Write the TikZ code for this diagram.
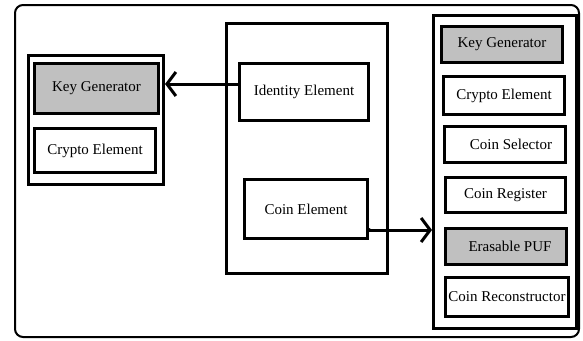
\documentclass[tikz,border=0pt]{standalone}
\usepackage{fontspec}
\setmainfont{Liberation Serif}
\usetikzlibrary{arrows.meta}
\definecolor{boxgray}{RGB}{192,192,192}

\tikzset{
  unit/.style={draw,line width=3pt,inner sep=0pt,font=\fontsize{15}{17}\selectfont},
  grayunit/.style={unit,fill=boxgray},
  group/.style={draw,line width=3pt,inner sep=0pt},
  link/.style={line width=3pt,-{Straight Barb[length=9pt,width=24pt]}}
}

\begin{document}
\begin{tikzpicture}[x=1pt,y=-1pt]
  \useasboundingbox (0,0) rectangle (583,340);

  % Outer frame.
  \draw[line width=2pt,rounded corners=8pt] (15,5) rectangle (579,337);

  % Left group.
  \node[group,minimum width=135pt,minimum height=129pt] (leftgrp) at (96,120) {};
  \node[grayunit,minimum width=124pt,minimum height=50pt] (lkeygen) at (96.5,88.5) {Key Generator};
  \node[unit,minimum width=121pt,minimum height=44pt] (lcrypto) at (95,150.5) {Crypto Element};

  % Middle group.
  \node[group,minimum width=161pt,minimum height=250pt] (mid) at (307,148.5) {};
  \node[unit,minimum width=129pt,minimum height=57pt] (ident) at (304,92) {Identity Element};
  \node[unit,minimum width=123pt,minimum height=59pt] (coin) at (306,209) {Coin Element};

  % Right group.
  \node[group,minimum width=143pt,minimum height=313pt] (rightgrp) at (505,172) {};
  \node[grayunit,minimum width=121pt,minimum height=36pt] (rkeygen) at (502,44.5) {Key Generator};
  \node[unit,minimum width=121pt,minimum height=38pt] (rcrypto) at (504,95.5) {Crypto Element};
  \node[unit,minimum width=121pt,minimum height=36pt] (rselect) at (505,144.5) {\hspace{12pt}Coin Selector};
  \node[unit,minimum width=120pt,minimum height=35pt] (rregist) at (505.5,195) {Coin Register};
  \node[grayunit,minimum width=121pt,minimum height=36pt] (rpuf) at (506,246.5) {\hspace{8pt}Erasable PUF};
  \node[unit,minimum width=123pt,minimum height=39pt] (rrecon) at (507,297) {Coin Reconstructor};

  % Connector ends.
  \coordinate (identout) at ([yshift=8pt]ident.west);
  \coordinate (coinout) at ([yshift=-21pt]coin.east);

  % Connectors.
  \draw[link] (identout) -- (leftgrp.east |- identout);
  \fill (coinout) circle (2pt);
  \draw[link] (coinout) -- (rightgrp.west |- coinout);

\end{tikzpicture}
\end{document}
